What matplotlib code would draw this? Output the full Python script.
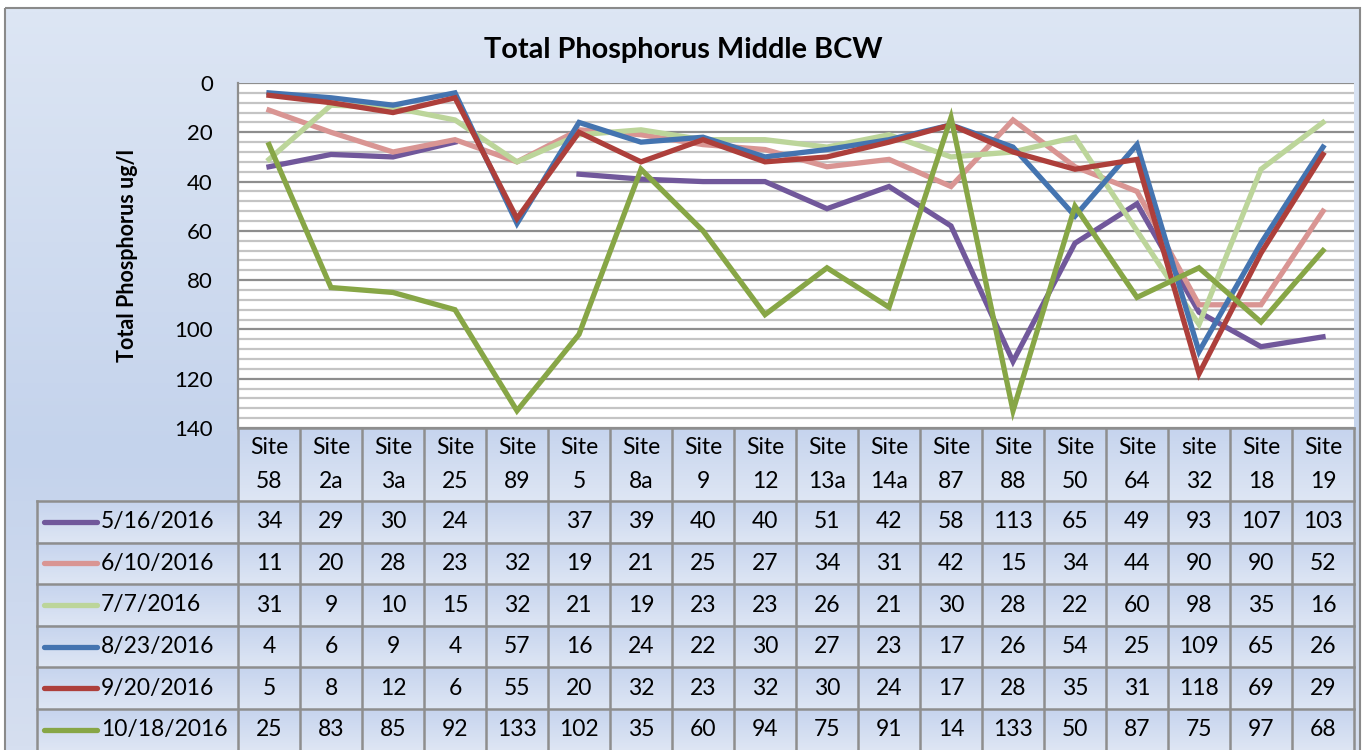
import numpy as np
import matplotlib
matplotlib.use("Agg")
import matplotlib.pyplot as plt
from matplotlib.patches import Rectangle
from matplotlib.lines import Line2D

# ---------------- data ----------------
sites = ["Site 58", "Site 2a", "Site 3a", "Site 25", "Site 89", "Site 5", "Site 8a",
         "Site 9", "Site 12", "Site 13a", "Site 14a", "Site 87", "Site 88", "Site 50",
         "Site 64", "site 32", "Site 18", "Site 19"]
dates = ["5/16/2016", "6/10/2016", "7/7/2016", "8/23/2016", "9/20/2016", "10/18/2016"]
s_0516 = [34, 29, 30, 24, None, 37, 39, 40, 40, 51, 42, 58, 113, 65, 49, 93, 107, 103]
s_0610 = [11, 20, 28, 23, 32, 19, 21, 25, 27, 34, 31, 42, 15, 34, 44, 90, 90, 52]
s_0707 = [31, 9, 10, 15, 32, 21, 19, 23, 23, 26, 21, 30, 28, 22, 60, 98, 35, 16]
s_0823 = [4, 6, 9, 4, 57, 16, 24, 22, 30, 27, 23, 17, 26, 54, 25, 109, 65, 26]
s_0920 = [5, 8, 12, 6, 55, 20, 32, 23, 32, 30, 24, 17, 28, 35, 31, 118, 69, 29]
s_1018 = [25, 83, 85, 92, 133, 102, 35, 60, 94, 75, 91, 14, 133, 50, 87, 75, 97, 68]
series = [s_0516, s_0610, s_0707, s_0823, s_0920, s_1018]
colors = ["#71589b", "#d99593", "#bcd59a", "#4474b0", "#ad3f3b", "#87a646"]
y_ticks = [0, 20, 40, 60, 80, 100, 120, 140]

plt.rcParams['font.family'] = ['Lato', 'DejaVu Sans']

# ---------------- layout (pixels) ----------------
W, H = 1367, 750
PL, PR, PT, PB = 238, 1354, 83, 428
HDR_BOT = 501
ROW_H = 41.6
LEG_L = 37
n = len(sites)
colw = (PR - PL) / n
GRID_C = "#8e8e8e"
TXT = 16.5

fig = plt.figure(figsize=(W / 100, H / 100), dpi=100)

# background axes in pixel coordinates
bg = fig.add_axes([0, 0, 1, 1])
bg.set_xlim(0, W)
bg.set_ylim(H, 0)
bg.axis('off')

top_c = np.array([0xdd, 0xe6, 0xf4]) / 255
mid_c = np.array([0xc4, 0xd3, 0xec]) / 255
bot_c = np.array([0xd6, 0xdf, 0xf0]) / 255
t = np.linspace(0, 1, 200)[:, None]
grad = np.where(t < 0.6, top_c + (mid_c - top_c) * (t / 0.6),
                mid_c + (bot_c - mid_c) * ((t - 0.6) / 0.4))
bg.imshow(grad[:, None, :], extent=(5, 1360, H, 8), aspect='auto', zorder=0)
bg.add_patch(Rectangle((5, 8), 1355, H, fill=False, ec="#8a8a8a", lw=1.5, zorder=5))

# table cell gradients
cell_top = np.array([0xc6, 0xd4, 0xee]) / 255
cell_bot = np.array([0xde, 0xe6, 0xf4]) / 255
tg = np.linspace(0, 1, 50)[:, None]
cgrad = (cell_top + (cell_bot - cell_top) * tg)[:, None, :]
bg.imshow(cgrad, extent=(PL, PR, HDR_BOT, PB), aspect='auto', zorder=1)
for r in range(len(dates)):
    y0 = HDR_BOT + r * ROW_H
    bg.imshow(cgrad, extent=(LEG_L, PR, y0 + ROW_H, y0), aspect='auto', zorder=1)

# table grid lines
for i in range(n + 1):
    x = PL + i * colw
    bg.plot([x, x], [PB, H], color=GRID_C, lw=1.8, zorder=3)
bg.plot([LEG_L, LEG_L], [HDR_BOT, H], color=GRID_C, lw=1.8, zorder=3)
bg.plot([PL, PR], [PB, PB], color=GRID_C, lw=1.8, zorder=3)
for r in range(len(dates)):
    y = HDR_BOT + r * ROW_H
    bg.plot([LEG_L, PR], [y, y], color=GRID_C, lw=1.8, zorder=3)

# header text
for i, s in enumerate(sites):
    xc = PL + (i + 0.5) * colw
    w1, w2 = s.split(" ")
    bg.text(xc, PB + 20, w1, ha='center', va='center', fontsize=TXT, zorder=4)
    bg.text(xc, PB + 54, w2, ha='center', va='center', fontsize=TXT, zorder=4)

# data rows
for r, (d, vals, c) in enumerate(zip(dates, series, colors)):
    yc = HDR_BOT + (r + 0.5) * ROW_H
    bg.add_line(Line2D([44, 97], [yc, yc], color=c, lw=3.8, solid_capstyle='round', zorder=4))
    bg.text(101, yc, d, ha='left', va='center', fontsize=TXT, zorder=4)
    for i, v in enumerate(vals):
        if v is None:
            continue
        xc = PL + (i + 0.5) * colw
        bg.text(xc, yc, str(v), ha='center', va='center', fontsize=TXT, zorder=4)

# title
bg.text(683, 50, "Total Phosphorus Middle BCW", ha='center', va='center',
        fontsize=20.8, fontweight='bold', zorder=4)

# ---------------- plot axes ----------------
ax = fig.add_axes([PL / W, 1 - PB / H, (PR - PL) / W, (PB - PT) / H])
ax.set_facecolor("white")
x = np.arange(n)
ax.set_xlim(-0.5, n - 0.5)
ax.set_ylim(140, 0)
ax.set_yticks(y_ticks)
ax.set_yticks(np.arange(0, 141, 4), minor=True)
ax.grid(True, axis='y', which='minor', color="#c4c4c4", lw=1.6)
ax.grid(True, axis='y', which='major', color="#8e8e8e", lw=1.6)
ax.set_axisbelow(True)
ax.tick_params(axis='y', which='both', length=0, labelsize=16, pad=18)
ax.tick_params(axis='x', which='both', length=0, labelbottom=False)
for sp in ['top', 'right', 'bottom']:
    ax.spines[sp].set_visible(False)
ax.spines['left'].set_color("#8e8e8e")
ax.spines['left'].set_linewidth(1.6)

for vals, c, d in zip(series, colors, dates):
    y = np.array([np.nan if v is None else v for v in vals], dtype=float)
    ax.plot(x, y, color=c, lw=3.8, label=d, solid_joinstyle='miter')

ax.set_ylabel("Total Phosphorus ug/l", fontsize=15.5, fontweight='bold', labelpad=26)

fig.savefig("out.png", dpi=100)
